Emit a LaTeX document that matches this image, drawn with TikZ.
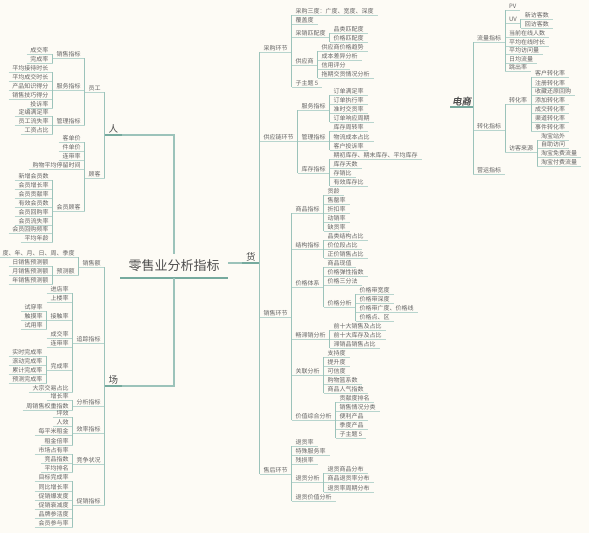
\documentclass[tikz,border=0pt]{standalone}
\usepackage{fontspec}
\setmainfont{Noto Sans CJK SC}
\newfontfamily\heavyfont[FakeBold=1.5,FakeSlant=0.2]{Noto Sans CJK SC}
\usepackage{tikz}
\definecolor{paper}{HTML}{FDFBF5}
\definecolor{ink}{HTML}{636363}
\definecolor{inkdeep}{HTML}{4E4E4E}
\definecolor{teal}{HTML}{9CC3BA}
\definecolor{tealpale}{HTML}{B8D5CE}
\definecolor{tealdeep}{HTML}{76AA9E}
\tikzset{
  under/.style    ={draw=tealpale, line width=0.8pt},
  underdeep/.style={draw=tealdeep, line width=1.3pt},
  link/.style     ={draw=teal, line width=0.9pt},
  trunk/.style    ={draw=teal, line width=1.1pt},
  leaf/.style     ={font=\fontsize{6}{7}\selectfont, text=ink, inner xsep=4pt,
                    inner ysep=1.2pt, outer sep=0pt,
                    append after command={(\tikzlastnode.south west)
                      edge[under] (\tikzlastnode.south east)}},
  lkid/.style     ={leaf, anchor=south east},
  rkid/.style     ={leaf, anchor=south west},
  major/.style    ={font=\fontsize{9.5}{11}\selectfont, text=inkdeep, inner xsep=4pt,
                    inner ysep=1.5pt, outer sep=0pt,
                    append after command={(\tikzlastnode.south west)
                      edge[underdeep] (\tikzlastnode.south east)}},
  dstopic/.style  ={major, font=\heavyfont\fontsize{9.5}{11}\selectfont,
                    inner xsep=2pt, anchor=south east},
  root/.style     ={font=\fontsize{13}{15}\selectfont, text=inkdeep, inner xsep=8.5pt,
                    inner ysep=6pt, outer sep=0pt, anchor=south,
                    append after command={(\tikzlastnode.south west)
                      edge[underdeep, line width=1.6pt] (\tikzlastnode.south east)}}
}
% children hang on the left / right end of the parent's underline
\newcommand{\lkids}[2]{%
  \foreach \yy/\txt [count=\i] in {#2}{%
    \node[lkid] (#1-\i) at (#1.south west |- 0,\yy) {\txt};
    \draw[link] (#1.south west) -- (#1-\i.south east);
  }}
\newcommand{\rkids}[2]{%
  \foreach \yy/\txt [count=\i] in {#2}{%
    \node[rkid] (#1-\i) at (#1.south east |- 0,\yy) {\txt};
    \draw[link] (#1.south east) -- (#1-\i.south west);
  }}
\begin{document}
\begin{tikzpicture}[x=1pt, y=-1pt]
  \useasboundingbox (0,0) rectangle (589,533);
  \fill[paper] (0,0) rectangle (589,533);

  % Thème central
  \node[root] (root) at (174,278) {零售业分析指标};
  \node[major, anchor=south east] (ren)   at (122,135) {人};
  \node[major, anchor=south east] (chang) at (122,386) {场};
  \node[major, anchor=south west] (huo)   at (242,263) {货};
  \draw[trunk] (root.north) |- (ren.south east);
  \draw[trunk] (root.south) |- (chang.south east);
  \draw[trunk] (root.east |- huo.south west) -- (huo.south west);

  % 人
  \lkids{ren}{92/员工, 178/顾客}
  \lkids{ren-1}{58/销售指标, 90/服务指标, 125/管理指标}
  \lkids{ren-1-1}{54/成交率, 63/完成率}
  \lkids{ren-1-2}{72/平均接待时长, 81/平均成交时长, 90/产品知识得分, 99/销售技巧得分, 108/投诉率}
  \lkids{ren-1-3}{116/定编满足率, 125/员工流失率, 134/工资占比}
  \lkids{ren-2}{142/客单价, 151/件单价, 160/连带率, 169/购物平均停留时间, 211/会员顾客}
  \lkids{ren-2-5}{180/新增会员数, 189/会员增长率, 198/会员贡献率, 207/有效会员数,
                  216/会员回购率, 225/会员流失率, 233/会员回购频率, 242/平均年龄}

  % 场
  \lkids{chang}{267/销售额, 343/追踪指标, 406/分析指标, 433/效率指标, 464/竞争状况, 505/促销指标}
  \lkids{chang-1}{257/度、年、月、日、周、季度, 275/预测额}
  \lkids{chang-1-2}{266/日销售预测额, 275/月销售预测额, 284/年销售预测额}
  \lkids{chang-2}{293/进店率, 302/上楼率, 320/接触率, 338/成交率, 347/连带率, 370/完成率, 392/大宗交易占比}
  \lkids{chang-2-3}{311/试穿率, 320/触摸率, 329/试用率}
  \lkids{chang-2-6}{356/实时完成率, 365/滚动完成率, 374/累计完成率, 383/预测完成率}
  \lkids{chang-3}{400/增长率, 410/周销售权重指数}
  \lkids{chang-4}{417/坪效, 426/人效, 435/每平米租金, 445/租金倍率}
  \lkids{chang-5}{454/市场占有率, 463/竞品指数, 472/平均排名}
  \lkids{chang-6}{481/目标完成率, 491/同比增长率, 500/促销爆发度, 509/促销衰减度,
                  518/品牌参活度, 527/会员参与率}

  % 货
  \rkids{huo}{52/采购环节, 141/供应链环节, 317/销售环节, 474/售后环节}
  \rkids{huo-1}{15/采购三度：广度、宽度、深度, 24/覆盖度, 37/采销匹配度, 65/供应商, 87/子主题 5}
  \rkids{huo-1-3}{33/品类匹配度, 42/价格匹配度}
  \rkids{huo-1-4}{51/供应商价格趋势, 60/成本差异分析, 69/信用评分, 78/拖期交货情况分析}
  \rkids{huo-2}{110/服务指标, 141/管理指标, 173/库存指标}
  \rkids{huo-2-1}{95/订单满足率, 104/订单执行率, 113/准时交货率, 122/订单响应周期}
  \rkids{huo-2-2}{131/库存周转率, 141/物流成本占比, 150/客户投诉率}
  \rkids{huo-2-3}{159/期初库存、期末库存、平均库存, 168/库存天数, 177/存销比, 186/有效库存比}
  \rkids{huo-3}{213/商品指标, 249/结构指标, 287/价格体系, 339/畅滞销分析, 375/关联分析, 420/价值综合分析}
  \rkids{huo-3-1}{195/货龄, 204/售罄率, 213/折扣率, 222/动销率, 231/缺货率}
  \rkids{huo-3-2}{240/品类结构占比, 249/价位段占比, 258/正价销售占比}
  \rkids{huo-3-3}{267/商品现值, 276/价格弹性指数, 285/价格三分法, 307/价格分析}
  \rkids{huo-3-3-4}{294/价格带宽度, 303/价格带深度, 312/价格带广度、价格线, 321/价格点、区}
  \rkids{huo-3-4}{330/前十大销售及占比, 339/前十大库存及占比, 348/滞销品销售占比}
  \rkids{huo-3-5}{357/支持度, 366/提升度, 375/可信度, 384/购物篮系数, 393/商品人气指数}
  \rkids{huo-3-6}{402/贡献度排名, 411/销售情况分类, 420/便利产品, 429/季度产品, 438/子主题 5}
  \rkids{huo-4}{446/退货率, 455/特殊服务率, 464/残损率, 482/退货分析, 501/退货价值分析}
  \rkids{huo-4-4}{473/退货商品分布, 482/商品退货率分布, 492/退货率周期分布}

  % 电商 (sujet libre)
  \node[dstopic] (ds) at (473,107) {电商};
  \rkids{ds}{42/流量指标, 130/转化指标, 174/营运指标}
  \rkids{ds-1}{10/PV, 23/UV, 37/当前在线人数, 46/平均在线时长, 54/平均访问量, 63/日均流量, 71/跳出率}
  \rkids{ds-1-2}{19/新访客数, 28/回访客数}
  \rkids{ds-2}{104/转化率, 152/访客来源}
  \rkids{ds-2-1}{77/客户转化率, 87/注册转化率, 95/收藏还原回购, 104/添加转化率,
                 113/成交转化率, 122/渠道转化率, 131/事件转化率}
  \rkids{ds-2-2}{140/淘宝站外, 148/自助访问, 157/淘宝免费流量, 166/淘宝付费流量}
\end{tikzpicture}
\end{document}
